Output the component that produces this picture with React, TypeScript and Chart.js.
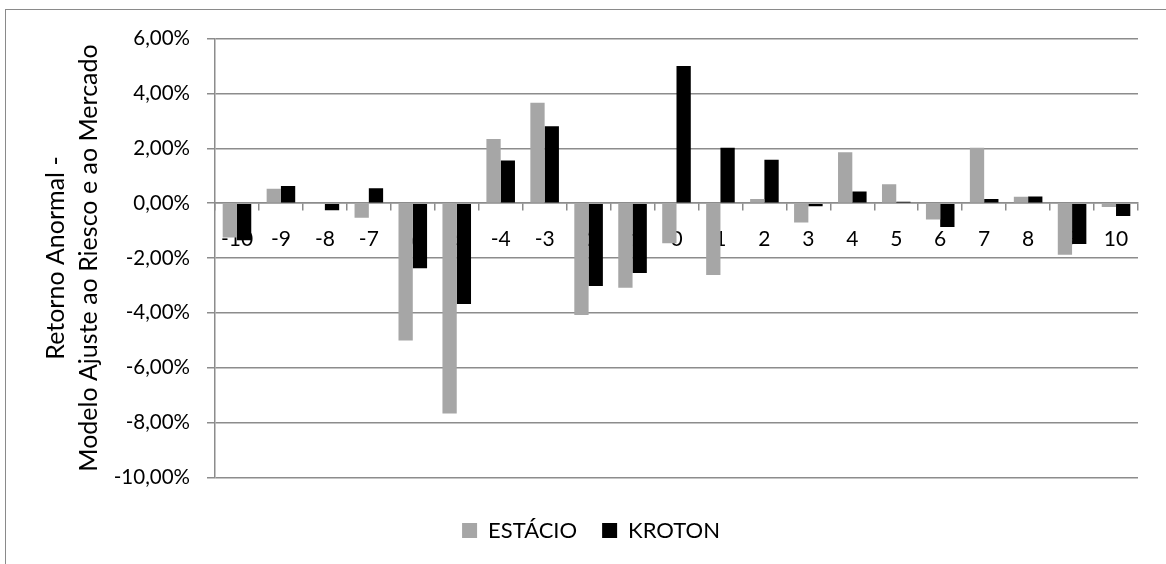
import React, { useEffect, useRef } from 'react';
import { Chart, registerables } from 'chart.js';

Chart.register(...registerables);

const categories = ['-10', '-9', '-8', '-7', '-6', '-5', '-4', '-3', '-2', '-1', '0', '1', '2', '3', '4', '5', '6', '7', '8', '9', '10'];
const estacio = [-1.25, 0.52, 0.02, -0.53, -5.01, -7.67, 2.34, 3.66, -4.08, -3.08, -1.46, -2.62, 0.15, -0.71, 1.85, 0.69, -0.6, 2.02, 0.23, -1.88, -0.14];
const kroton = [-1.35, 0.62, -0.26, 0.54, -2.37, -3.68, 1.55, 2.8, -3.02, -2.55, 5.0, 2.02, 1.58, -0.11, 0.42, 0.05, -0.87, 0.15, 0.24, -1.49, -0.47];
const yMin = -10;
const yMax = 6;
const yStep = 2;
const seriesNames = ['ESTÁCIO', 'KROTON'];
const yTitle = ['Retorno Anormal -', 'Modelo Ajuste ao Riesco e ao Mercado'];

const GRID = '#8c8c8c';
const FONT = 'Lato';

export default function App() {
  const ref = useRef<HTMLCanvasElement>(null);

  useEffect(() => {
    if (!ref.current) return;
    const chart = new Chart(ref.current, {
      type: 'bar',
      data: {
        labels: categories,
        datasets: [
          {
            label: seriesNames[0],
            data: estacio,
            backgroundColor: '#A6A6A6',
            borderWidth: 0,
            categoryPercentage: 0.65,
            barPercentage: 1,
          },
          {
            label: seriesNames[1],
            data: kroton,
            backgroundColor: '#000000',
            borderWidth: 0,
            categoryPercentage: 0.65,
            barPercentage: 1,
          },
        ],
      },
      options: {
        animation: false,
        responsive: true,
        maintainAspectRatio: false,
        layout: { padding: { left: 44, right: 28, top: 38.5, bottom: 12.5 } },
        plugins: {
          legend: {
            position: 'bottom',
            labels: {
              boxWidth: 15,
              boxHeight: 15,
              padding: 25,
              color: '#000000',
              font: { family: FONT, size: 22 },
            },
            title: {
              display: true,
              text: '',
              font: { size: 10, lineHeight: 1 },
              padding: { top: 3, bottom: 4 },
            },
          },
          tooltip: { enabled: false },
        },
        scales: {
          x: {
            position: { y: 0 },
            grid: {
              display: true,
              drawOnChartArea: false,
              drawTicks: true,
              tickLength: 7,
              color: GRID,
              lineWidth: 1.5,
              offset: true,
            },
            border: { display: true, color: GRID, width: 1.5 },
            ticks: {
              autoSkip: false,
              maxRotation: 0,
              minRotation: 0,
              padding: 16.5,
              color: '#000000',
              font: { family: FONT, size: 21 },
            },
          },
          y: {
            min: yMin,
            max: yMax,
            ticks: {
              stepSize: yStep,
              padding: 17,
              color: '#000000',
              font: { family: FONT, size: 20.5 },
              callback: (v: any) => {
                const n = Number(v);
                const s = (Math.abs(n) < 1e-9 ? 0 : n).toFixed(2).replace('.', ',');
                return s + '%';
              },
            },
            grid: { color: GRID, lineWidth: 1.5, tickLength: 8 },
            border: { display: true, color: GRID, width: 1.5 },
            title: {
              display: true,
              text: yTitle,
              color: '#000000',
              font: { family: FONT, size: 25, lineHeight: 1.32 },
              padding: { top: -4.5, bottom: 0 },
            },
            afterFit: (scale: any) => {
              scale.width = 171;
            },
          },
        },
      } as any,
    });
    return () => chart.destroy();
  }, []);

  return (
    <div style={{ position: 'absolute', left: 0, top: 0, width: 1166, height: 564, overflow: 'hidden', background: '#ffffff' }}>
      <div
        style={{
          position: 'absolute',
          left: 5,
          top: 9,
          width: 1400,
          height: 800,
          borderLeft: '1.5px solid #8a8a8a',
          borderTop: '1.5px solid #8a8a8a',
        }}
      />
      <div style={{ position: 'absolute', left: 0, top: 0, width: 1166, height: 564 }}>
        <canvas ref={ref} />
      </div>
    </div>
  );
}
